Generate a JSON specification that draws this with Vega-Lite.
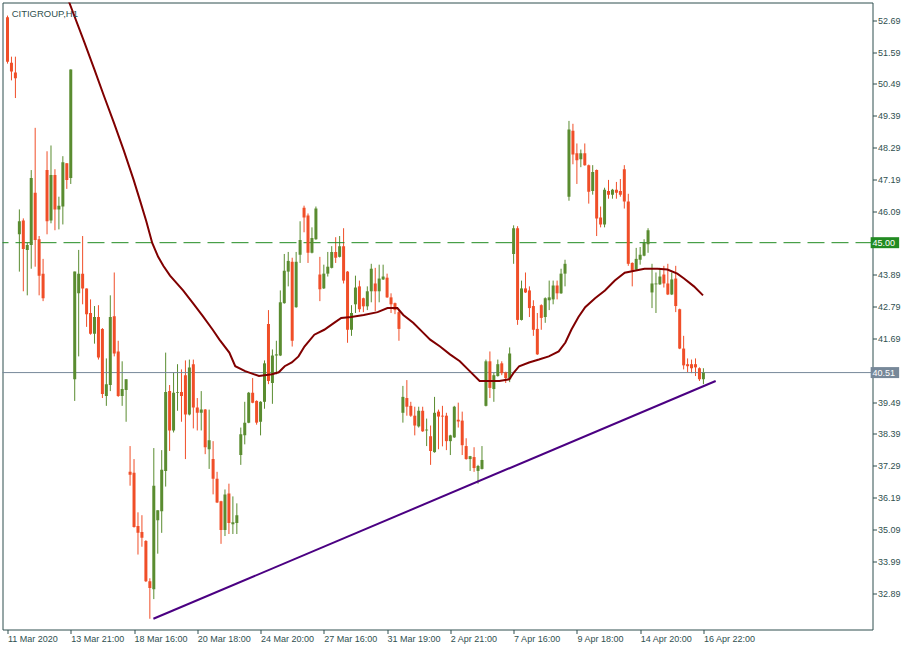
{
  "$schema": "https://vega.github.io/schema/vega-lite/v6.json",
  "width": 870,
  "height": 627,
  "autosize": {"type": "none"},
  "padding": {"left": 2.5, "top": 2.5, "right": 42.5, "bottom": 20.5},
  "background": "white",
  "config": {
    "view": {"stroke": "#2f4f4f", "strokeWidth": 1},
    "axis": {"labelOverlap": false, "labelFlush": false, "labelBound": false, "grid": false, "domain": false}
  },
  "datasets": {
    "candles": [
      {"i":0,"o":52.79,"h":52.85,"l":51.19,"c":51.25},
      {"i":1,"o":51.22,"h":51.43,"l":50.61,"c":50.92},
      {"i":2,"o":50.88,"h":51.43,"l":50.00,"c":50.68},
      {"i":3,"o":45.29,"h":46.15,"l":44.00,"c":45.74},
      {"i":4,"o":45.77,"h":45.84,"l":43.32,"c":44.78},
      {"i":5,"o":44.75,"h":44.99,"l":43.18,"c":44.92},
      {"i":6,"o":44.92,"h":47.51,"l":44.10,"c":47.24},
      {"i":7,"o":46.73,"h":48.97,"l":44.17,"c":45.09},
      {"i":8,"o":45.12,"h":45.23,"l":43.18,"c":43.86},
      {"i":9,"o":43.93,"h":44.44,"l":42.98,"c":43.08},
      {"i":10,"o":47.51,"h":48.16,"l":45.29,"c":45.74},
      {"i":11,"o":45.77,"h":48.36,"l":45.67,"c":47.34},
      {"i":12,"o":47.34,"h":47.54,"l":45.43,"c":46.15},
      {"i":13,"o":46.15,"h":46.59,"l":45.46,"c":46.28},
      {"i":14,"o":46.25,"h":47.99,"l":45.63,"c":47.78},
      {"i":15,"o":47.75,"h":47.75,"l":46.86,"c":47.17},
      {"i":16,"o":47.24,"h":50.99,"l":47.03,"c":50.99},
      {"i":17,"o":40.28,"h":44.00,"l":39.53,"c":44.00},
      {"i":18,"o":43.25,"h":44.75,"l":41.07,"c":43.93},
      {"i":19,"o":43.93,"h":45.23,"l":42.87,"c":43.42},
      {"i":20,"o":43.42,"h":43.42,"l":42.09,"c":42.53},
      {"i":21,"o":42.57,"h":43.04,"l":41.82,"c":41.85},
      {"i":22,"o":41.85,"h":42.81,"l":41.51,"c":42.43},
      {"i":23,"o":42.43,"h":42.84,"l":40.96,"c":41.03},
      {"i":24,"o":42.02,"h":42.05,"l":39.63,"c":39.77},
      {"i":25,"o":39.70,"h":41.00,"l":39.36,"c":40.11},
      {"i":26,"o":40.08,"h":43.18,"l":39.87,"c":42.43},
      {"i":27,"o":42.46,"h":43.97,"l":41.07,"c":41.17},
      {"i":28,"o":41.24,"h":41.61,"l":39.67,"c":39.70},
      {"i":29,"o":39.70,"h":40.90,"l":39.36,"c":39.94},
      {"i":30,"o":39.91,"h":40.28,"l":38.81,"c":40.28},
      {"i":31,"o":37.08,"h":37.97,"l":36.60,"c":36.98},
      {"i":32,"o":37.05,"h":37.52,"l":35.15,"c":35.17},
      {"i":33,"o":35.21,"h":35.68,"l":34.22,"c":34.97},
      {"i":34,"o":35.00,"h":35.58,"l":34.49,"c":34.80},
      {"i":35,"o":34.69,"h":34.72,"l":33.27,"c":33.30},
      {"i":36,"o":33.30,"h":33.40,"l":32.00,"c":33.06},
      {"i":37,"o":33.02,"h":37.90,"l":32.68,"c":36.60},
      {"i":38,"o":35.41,"h":35.75,"l":34.25,"c":35.75},
      {"i":39,"o":35.72,"h":37.83,"l":34.97,"c":37.15},
      {"i":40,"o":37.11,"h":41.20,"l":36.57,"c":39.84},
      {"i":41,"o":39.87,"h":40.08,"l":37.80,"c":38.51},
      {"i":42,"o":38.51,"h":40.52,"l":38.44,"c":39.81},
      {"i":43,"o":39.81,"h":40.80,"l":39.19,"c":39.84},
      {"i":44,"o":39.84,"h":40.62,"l":38.81,"c":39.70},
      {"i":45,"o":40.42,"h":40.93,"l":37.52,"c":39.06},
      {"i":46,"o":39.06,"h":40.96,"l":39.03,"c":40.69},
      {"i":47,"o":40.80,"h":40.96,"l":38.58,"c":39.30},
      {"i":48,"o":39.30,"h":39.63,"l":38.51,"c":39.12},
      {"i":49,"o":39.12,"h":39.87,"l":38.51,"c":39.23},
      {"i":50,"o":39.23,"h":39.25,"l":37.69,"c":37.93},
      {"i":51,"o":37.86,"h":39.23,"l":37.18,"c":38.17},
      {"i":52,"o":37.52,"h":38.14,"l":36.30,"c":36.84},
      {"i":53,"o":36.84,"h":37.08,"l":36.00,"c":36.02},
      {"i":54,"o":36.06,"h":36.08,"l":34.59,"c":35.07},
      {"i":55,"o":35.07,"h":36.47,"l":34.86,"c":36.30},
      {"i":56,"o":36.33,"h":36.67,"l":34.93,"c":35.31},
      {"i":57,"o":35.27,"h":36.23,"l":34.93,"c":35.34},
      {"i":58,"o":35.31,"h":35.99,"l":34.93,"c":35.58},
      {"i":59,"o":37.66,"h":38.61,"l":37.32,"c":38.38},
      {"i":60,"o":38.34,"h":39.50,"l":38.03,"c":38.78},
      {"i":61,"o":38.78,"h":39.84,"l":38.76,"c":39.81},
      {"i":62,"o":39.81,"h":40.32,"l":39.45,"c":39.47},
      {"i":63,"o":39.53,"h":39.55,"l":38.71,"c":38.78},
      {"i":64,"o":38.81,"h":39.52,"l":38.34,"c":39.50},
      {"i":65,"o":39.50,"h":40.93,"l":39.26,"c":40.83},
      {"i":66,"o":42.19,"h":42.67,"l":40.11,"c":40.22},
      {"i":67,"o":40.15,"h":41.31,"l":39.43,"c":41.10},
      {"i":68,"o":41.10,"h":41.61,"l":40.45,"c":41.14},
      {"i":69,"o":41.10,"h":43.35,"l":41.08,"c":42.94},
      {"i":70,"o":42.91,"h":44.61,"l":42.89,"c":44.03},
      {"i":71,"o":44.00,"h":44.68,"l":43.49,"c":44.37},
      {"i":72,"o":44.34,"h":44.48,"l":41.41,"c":41.61},
      {"i":73,"o":42.77,"h":44.68,"l":42.75,"c":44.34},
      {"i":74,"o":44.58,"h":45.74,"l":44.30,"c":45.09},
      {"i":75,"o":46.21,"h":46.28,"l":45.36,"c":45.87},
      {"i":76,"o":45.94,"h":46.01,"l":44.30,"c":44.65},
      {"i":77,"o":44.65,"h":45.53,"l":44.63,"c":45.16},
      {"i":78,"o":45.12,"h":46.25,"l":45.10,"c":46.18},
      {"i":79,"o":43.90,"h":44.51,"l":42.98,"c":43.39},
      {"i":80,"o":43.42,"h":44.24,"l":43.40,"c":43.93},
      {"i":81,"o":43.93,"h":44.68,"l":43.83,"c":44.17},
      {"i":82,"o":44.13,"h":44.88,"l":44.11,"c":44.68},
      {"i":83,"o":44.68,"h":45.19,"l":44.30,"c":44.48},
      {"i":84,"o":44.51,"h":45.23,"l":44.49,"c":44.88},
      {"i":85,"o":44.88,"h":45.50,"l":43.59,"c":43.69},
      {"i":86,"o":44.00,"h":44.02,"l":41.54,"c":41.99},
      {"i":87,"o":41.99,"h":42.84,"l":41.78,"c":42.57},
      {"i":88,"o":42.87,"h":43.86,"l":42.57,"c":43.45},
      {"i":89,"o":43.49,"h":43.69,"l":42.60,"c":42.70},
      {"i":90,"o":43.08,"h":43.10,"l":42.60,"c":42.80},
      {"i":91,"o":42.80,"h":43.49,"l":42.67,"c":43.32},
      {"i":92,"o":43.32,"h":44.27,"l":42.94,"c":44.10},
      {"i":93,"o":43.59,"h":44.13,"l":42.64,"c":43.32},
      {"i":94,"o":43.32,"h":44.24,"l":42.94,"c":43.76},
      {"i":95,"o":43.73,"h":44.24,"l":43.71,"c":43.83},
      {"i":96,"o":43.79,"h":43.93,"l":43.09,"c":43.11},
      {"i":97,"o":43.11,"h":43.25,"l":42.57,"c":42.87},
      {"i":98,"o":42.91,"h":42.93,"l":42.53,"c":42.67},
      {"i":99,"o":42.60,"h":42.67,"l":41.61,"c":42.02},
      {"i":100,"o":39.12,"h":40.05,"l":38.78,"c":39.67},
      {"i":101,"o":39.63,"h":40.25,"l":39.02,"c":39.33},
      {"i":102,"o":39.36,"h":39.50,"l":38.98,"c":39.02},
      {"i":103,"o":39.02,"h":39.33,"l":38.34,"c":38.68},
      {"i":104,"o":38.65,"h":39.33,"l":38.61,"c":39.19},
      {"i":105,"o":39.19,"h":39.33,"l":38.46,"c":38.48},
      {"i":106,"o":38.51,"h":38.92,"l":37.97,"c":38.54},
      {"i":107,"o":38.31,"h":38.68,"l":37.32,"c":37.80},
      {"i":108,"o":37.76,"h":39.67,"l":37.74,"c":39.12},
      {"i":109,"o":39.16,"h":39.23,"l":37.86,"c":38.99},
      {"i":110,"o":39.02,"h":39.36,"l":37.96,"c":38.99},
      {"i":111,"o":39.02,"h":39.12,"l":37.83,"c":38.14},
      {"i":112,"o":38.14,"h":38.36,"l":37.66,"c":38.34},
      {"i":113,"o":38.27,"h":39.36,"l":38.25,"c":39.33},
      {"i":114,"o":38.88,"h":39.47,"l":38.61,"c":38.82},
      {"i":115,"o":38.85,"h":39.16,"l":37.66,"c":38.00},
      {"i":116,"o":37.97,"h":38.24,"l":37.50,"c":37.52},
      {"i":117,"o":37.52,"h":37.63,"l":37.11,"c":37.62},
      {"i":118,"o":37.59,"h":37.93,"l":37.08,"c":37.21},
      {"i":119,"o":37.11,"h":37.32,"l":36.67,"c":37.28},
      {"i":120,"o":37.18,"h":37.97,"l":37.16,"c":37.49},
      {"i":121,"o":39.36,"h":40.96,"l":39.34,"c":40.90},
      {"i":122,"o":40.90,"h":41.24,"l":39.63,"c":39.98},
      {"i":123,"o":39.94,"h":40.52,"l":39.50,"c":40.42},
      {"i":124,"o":40.39,"h":40.96,"l":40.37,"c":40.80},
      {"i":125,"o":40.83,"h":40.90,"l":40.42,"c":40.49},
      {"i":126,"o":40.52,"h":40.54,"l":40.15,"c":40.32},
      {"i":127,"o":40.28,"h":41.38,"l":40.18,"c":41.17},
      {"i":128,"o":44.61,"h":45.60,"l":44.27,"c":45.50},
      {"i":129,"o":45.50,"h":45.57,"l":42.16,"c":42.33},
      {"i":130,"o":42.33,"h":43.69,"l":42.31,"c":43.42},
      {"i":131,"o":43.42,"h":43.97,"l":43.26,"c":43.28},
      {"i":132,"o":43.35,"h":43.49,"l":42.43,"c":42.74},
      {"i":133,"o":42.81,"h":43.01,"l":41.78,"c":41.99},
      {"i":134,"o":42.02,"h":42.57,"l":41.12,"c":41.14},
      {"i":135,"o":42.84,"h":42.87,"l":41.99,"c":42.40},
      {"i":136,"o":42.43,"h":43.11,"l":42.23,"c":43.08},
      {"i":137,"o":43.01,"h":43.69,"l":42.67,"c":43.11},
      {"i":138,"o":43.04,"h":43.69,"l":42.87,"c":43.52},
      {"i":139,"o":43.52,"h":43.69,"l":43.04,"c":43.25},
      {"i":140,"o":43.25,"h":44.10,"l":43.23,"c":43.93},
      {"i":141,"o":43.93,"h":44.41,"l":43.49,"c":44.27},
      {"i":142,"o":46.59,"h":49.21,"l":46.45,"c":48.91},
      {"i":143,"o":48.87,"h":49.11,"l":47.71,"c":48.05},
      {"i":144,"o":48.09,"h":48.43,"l":47.03,"c":47.85},
      {"i":145,"o":47.88,"h":48.22,"l":47.61,"c":48.09},
      {"i":146,"o":48.09,"h":48.43,"l":47.66,"c":47.68},
      {"i":147,"o":47.68,"h":47.70,"l":46.35,"c":46.76},
      {"i":148,"o":46.79,"h":47.68,"l":46.66,"c":47.44},
      {"i":149,"o":47.51,"h":47.53,"l":45.23,"c":45.84},
      {"i":150,"o":45.87,"h":46.25,"l":45.53,"c":45.63},
      {"i":151,"o":45.63,"h":46.90,"l":45.53,"c":46.83},
      {"i":152,"o":46.79,"h":47.17,"l":46.52,"c":46.66},
      {"i":153,"o":46.66,"h":46.86,"l":46.52,"c":46.83},
      {"i":154,"o":46.83,"h":47.10,"l":46.52,"c":46.73},
      {"i":155,"o":46.79,"h":47.20,"l":46.59,"c":46.66},
      {"i":156,"o":47.54,"h":47.68,"l":46.18,"c":46.42},
      {"i":157,"o":46.42,"h":46.69,"l":44.20,"c":44.27},
      {"i":158,"o":44.30,"h":44.32,"l":43.49,"c":44.03},
      {"i":159,"o":44.07,"h":44.82,"l":44.05,"c":44.44},
      {"i":160,"o":44.41,"h":44.85,"l":44.24,"c":44.58},
      {"i":161,"o":44.55,"h":45.12,"l":44.53,"c":44.99},
      {"i":162,"o":44.95,"h":45.50,"l":44.65,"c":45.43},
      {"i":163,"o":43.28,"h":44.27,"l":42.74,"c":43.59},
      {"i":164,"o":43.56,"h":43.97,"l":42.57,"c":43.59},
      {"i":165,"o":43.56,"h":44.13,"l":43.54,"c":43.83},
      {"i":166,"o":43.90,"h":44.20,"l":43.45,"c":43.59},
      {"i":167,"o":43.59,"h":44.27,"l":43.19,"c":43.21},
      {"i":168,"o":43.21,"h":43.97,"l":43.19,"c":43.73},
      {"i":169,"o":43.76,"h":44.20,"l":42.60,"c":42.81},
      {"i":170,"o":42.70,"h":42.72,"l":41.32,"c":41.34},
      {"i":171,"o":41.34,"h":41.78,"l":40.62,"c":40.76},
      {"i":172,"o":40.80,"h":41.00,"l":40.52,"c":40.73},
      {"i":173,"o":40.80,"h":40.96,"l":40.49,"c":40.66},
      {"i":174,"o":40.80,"h":41.00,"l":40.39,"c":40.69},
      {"i":175,"o":40.66,"h":40.69,"l":40.22,"c":40.28},
      {"i":176,"o":40.28,"h":40.66,"l":40.11,"c":40.51}
    ],
    "ma": [
      {"i":14.4,"ma":53.75},{"i":16.1,"ma":53.13},{"i":19.4,"ma":51.94},{"i":21.9,"ma":51.02},
      {"i":24.4,"ma":50.07},{"i":26.9,"ma":49.15},{"i":29.4,"ma":48.19},{"i":31.9,"ma":47.17},
      {"i":33.6,"ma":46.42},{"i":35.1,"ma":45.74},{"i":36.6,"ma":44.99},{"i":38.1,"ma":44.51},
      {"i":39.4,"ma":44.20},{"i":41.1,"ma":43.86},{"i":44.4,"ma":43.35},{"i":46.9,"ma":42.91},
      {"i":49.4,"ma":42.46},{"i":51.9,"ma":41.99},{"i":53.6,"ma":41.65},{"i":56.1,"ma":41.20},
      {"i":57.6,"ma":40.73},{"i":60.1,"ma":40.56},{"i":63.6,"ma":40.39},{"i":66.9,"ma":40.45},
      {"i":68.6,"ma":40.52},{"i":70.1,"ma":40.73},{"i":71.9,"ma":40.86},{"i":73.6,"ma":41.07},
      {"i":75.1,"ma":41.41},{"i":77.6,"ma":41.82},{"i":80.1,"ma":41.99},{"i":82.6,"ma":42.23},
      {"i":84.4,"ma":42.40},{"i":86.9,"ma":42.43},{"i":90.1,"ma":42.50},{"i":93.6,"ma":42.60},
      {"i":96.1,"ma":42.74},{"i":98.6,"ma":42.74},{"i":100.1,"ma":42.50},{"i":102.6,"ma":42.23},
      {"i":105.1,"ma":41.89},{"i":106.9,"ma":41.65},{"i":109.4,"ma":41.41},{"i":111.9,"ma":41.14},
      {"i":114.4,"ma":40.90},{"i":116.9,"ma":40.56},{"i":119.4,"ma":40.22},{"i":121.9,"ma":40.22},
      {"i":124.4,"ma":40.22},{"i":126.9,"ma":40.28},{"i":128.1,"ma":40.52},{"i":129.4,"ma":40.73},
      {"i":131.9,"ma":40.86},{"i":134.4,"ma":40.96},{"i":136.9,"ma":41.07},{"i":139.4,"ma":41.24},
      {"i":141.1,"ma":41.55},{"i":142.6,"ma":41.99},{"i":144.4,"ma":42.43},{"i":146.1,"ma":42.77},
      {"i":148.6,"ma":43.08},{"i":151.1,"ma":43.35},{"i":153.6,"ma":43.69},{"i":156.1,"ma":43.96},
      {"i":158.6,"ma":44.03},{"i":161.1,"ma":44.10},{"i":164.4,"ma":44.10},{"i":166.9,"ma":44.07},
      {"i":169.4,"ma":43.93},{"i":171.1,"ma":43.76},{"i":173.6,"ma":43.49},{"i":175.9,"ma":43.18}
    ],
    "trend": [
      {"i":36.9,"p":32.00},
      {"i":179.1,"p":40.22}
    ],
    "levels": [
      {"price":45.00,"label":"45.00","kind":"res"},
      {"price":40.51,"label":"40.51","kind":"last"}
    ],
    "caption": [
      {"t":"CITIGROUP,H1"}
    ]
  },
  "layer": [
    {
      "data": {"name": "candles"},
      "mark": {"type": "rule", "strokeWidth": 1, "clip": true},
      "encoding": {
        "x": {
          "field": "i", "type": "quantitative",
          "scale": {"domain": [0, 217.5], "nice": false, "zero": false},
          "axis": {
            "orient": "bottom", "title": null, "grid": false, "domain": false,
            "values": [0, 16, 32, 48, 64, 80, 96, 112, 128, 144, 160, 176],
            "tickCount": 50,
            "labelExpr": "['11 Mar 2020','13 Mar 21:00','18 Mar 16:00','20 Mar 18:00','24 Mar 20:00','27 Mar 16:00','31 Mar 19:00','2 Apr 21:00','7 Apr 16:00','9 Apr 18:00','14 Apr 20:00','16 Apr 22:00'][round(datum.value / 16)]",
            "labelAlign": "left", "labelBaseline": "top", "labelPadding": 1, "labelOffset": 0,
            "labelFont": "Liberation Sans", "labelFontSize": 9, "labelColor": "#2f4f4f",
            "tickSize": 4, "tickColor": "#2f4f4f", "tickWidth": 1,
            "labelOverlap": false, "labelFlush": false
          }
        },
        "y": {
          "field": "l", "type": "quantitative",
          "scale": {"domain": [31.8022, 53.1295], "nice": false, "zero": false},
          "axis": {
            "orient": "right", "title": null, "grid": false, "domain": false,
            "values": [52.69, 51.59, 50.49, 49.39, 48.29, 47.19, 46.09, 43.89, 42.79, 41.69, 39.49, 38.39, 37.29, 36.19, 35.09, 33.99, 32.89],
            "tickCount": 50,
            "format": ".2f",
            "labelAlign": "left", "labelBaseline": "middle", "labelPadding": 1,
            "labelFont": "Liberation Sans", "labelFontSize": 9, "labelColor": "#2f4f4f",
            "tickSize": 4, "tickColor": "#2f4f4f", "tickWidth": 1,
            "labelOverlap": false, "labelFlush": false
          }
        },
        "y2": {"field": "h"},
        "color": {"condition": {"test": "datum.c >= datum.o", "value": "#5a8c30"}, "value": "#f04e28"}
      }
    },
    {
      "data": {"name": "levels"},
      "transform": [{"filter": "datum.kind == 'last'"}],
      "mark": {"type": "rule", "color": "#778899", "strokeWidth": 1},
      "encoding": {
        "y": {"field": "price", "type": "quantitative", "scale": {"domain": [31.8022, 53.1295], "nice": false, "zero": false}}
      }
    },
    {
      "data": {"name": "levels"},
      "transform": [{"filter": "datum.kind == 'res'"}],
      "mark": {"type": "rule", "color": "#228b22", "strokeWidth": 1, "strokeDash": [17, 7]},
      "encoding": {
        "y": {"field": "price", "type": "quantitative", "scale": {"domain": [31.8022, 53.1295], "nice": false, "zero": false}}
      }
    },
    {
      "data": {"name": "candles"},
      "mark": {"type": "bar", "size": 3, "clip": true},
      "encoding": {
        "x": {"field": "i", "type": "quantitative", "scale": {"domain": [0, 217.5], "nice": false, "zero": false}},
        "y": {"field": "o", "type": "quantitative", "scale": {"domain": [31.8022, 53.1295], "nice": false, "zero": false}},
        "y2": {"field": "c"},
        "color": {"condition": {"test": "datum.c >= datum.o", "value": "#5a8c30"}, "value": "#f04e28"}
      }
    },
    {
      "data": {"name": "ma"},
      "mark": {"type": "line", "color": "#800000", "strokeWidth": 2, "clip": true},
      "encoding": {
        "x": {"field": "i", "type": "quantitative", "scale": {"domain": [0, 217.5], "nice": false, "zero": false}},
        "y": {"field": "ma", "type": "quantitative", "scale": {"domain": [31.8022, 53.1295], "nice": false, "zero": false}}
      }
    },
    {
      "data": {"name": "trend"},
      "mark": {"type": "line", "color": "#4b0082", "strokeWidth": 2, "clip": true},
      "encoding": {
        "x": {"field": "i", "type": "quantitative", "scale": {"domain": [0, 217.5], "nice": false, "zero": false}},
        "y": {"field": "p", "type": "quantitative", "scale": {"domain": [31.8022, 53.1295], "nice": false, "zero": false}}
      }
    },
    {
      "data": {"name": "caption"},
      "mark": {"type": "text", "align": "left", "baseline": "alphabetic", "font": "Liberation Sans", "fontSize": 9.5, "color": "#2f4f4f", "clip": false},
      "encoding": {
        "x": {"datum": 1.05, "type": "quantitative", "scale": {"domain": [0, 217.5], "nice": false, "zero": false}},
        "y": {"datum": 52.80, "type": "quantitative", "scale": {"domain": [31.8022, 53.1295], "nice": false, "zero": false}},
        "text": {"field": "t"}
      }
    },
    {
      "data": {"name": "levels"},
      "mark": {"type": "bar", "orient": "horizontal", "size": 11, "clip": false},
      "encoding": {
        "x": {"datum": 218.3, "type": "quantitative", "scale": {"domain": [0, 217.5], "nice": false, "zero": false}},
        "x2": {"datum": 225.5},
        "y": {"field": "price", "type": "quantitative", "scale": {"domain": [31.8022, 53.1295], "nice": false, "zero": false}},
        "color": {"condition": {"test": "datum.kind == 'res'", "value": "#228b22"}, "value": "#778899"}
      }
    },
    {
      "data": {"name": "levels"},
      "mark": {"type": "text", "align": "left", "baseline": "middle", "font": "Liberation Sans", "fontSize": 9, "color": "white", "clip": false},
      "encoding": {
        "x": {"datum": 218.75, "type": "quantitative", "scale": {"domain": [0, 217.5], "nice": false, "zero": false}},
        "y": {"field": "price", "type": "quantitative", "scale": {"domain": [31.8022, 53.1295], "nice": false, "zero": false}},
        "text": {"field": "label"}
      }
    }
  ]
}
